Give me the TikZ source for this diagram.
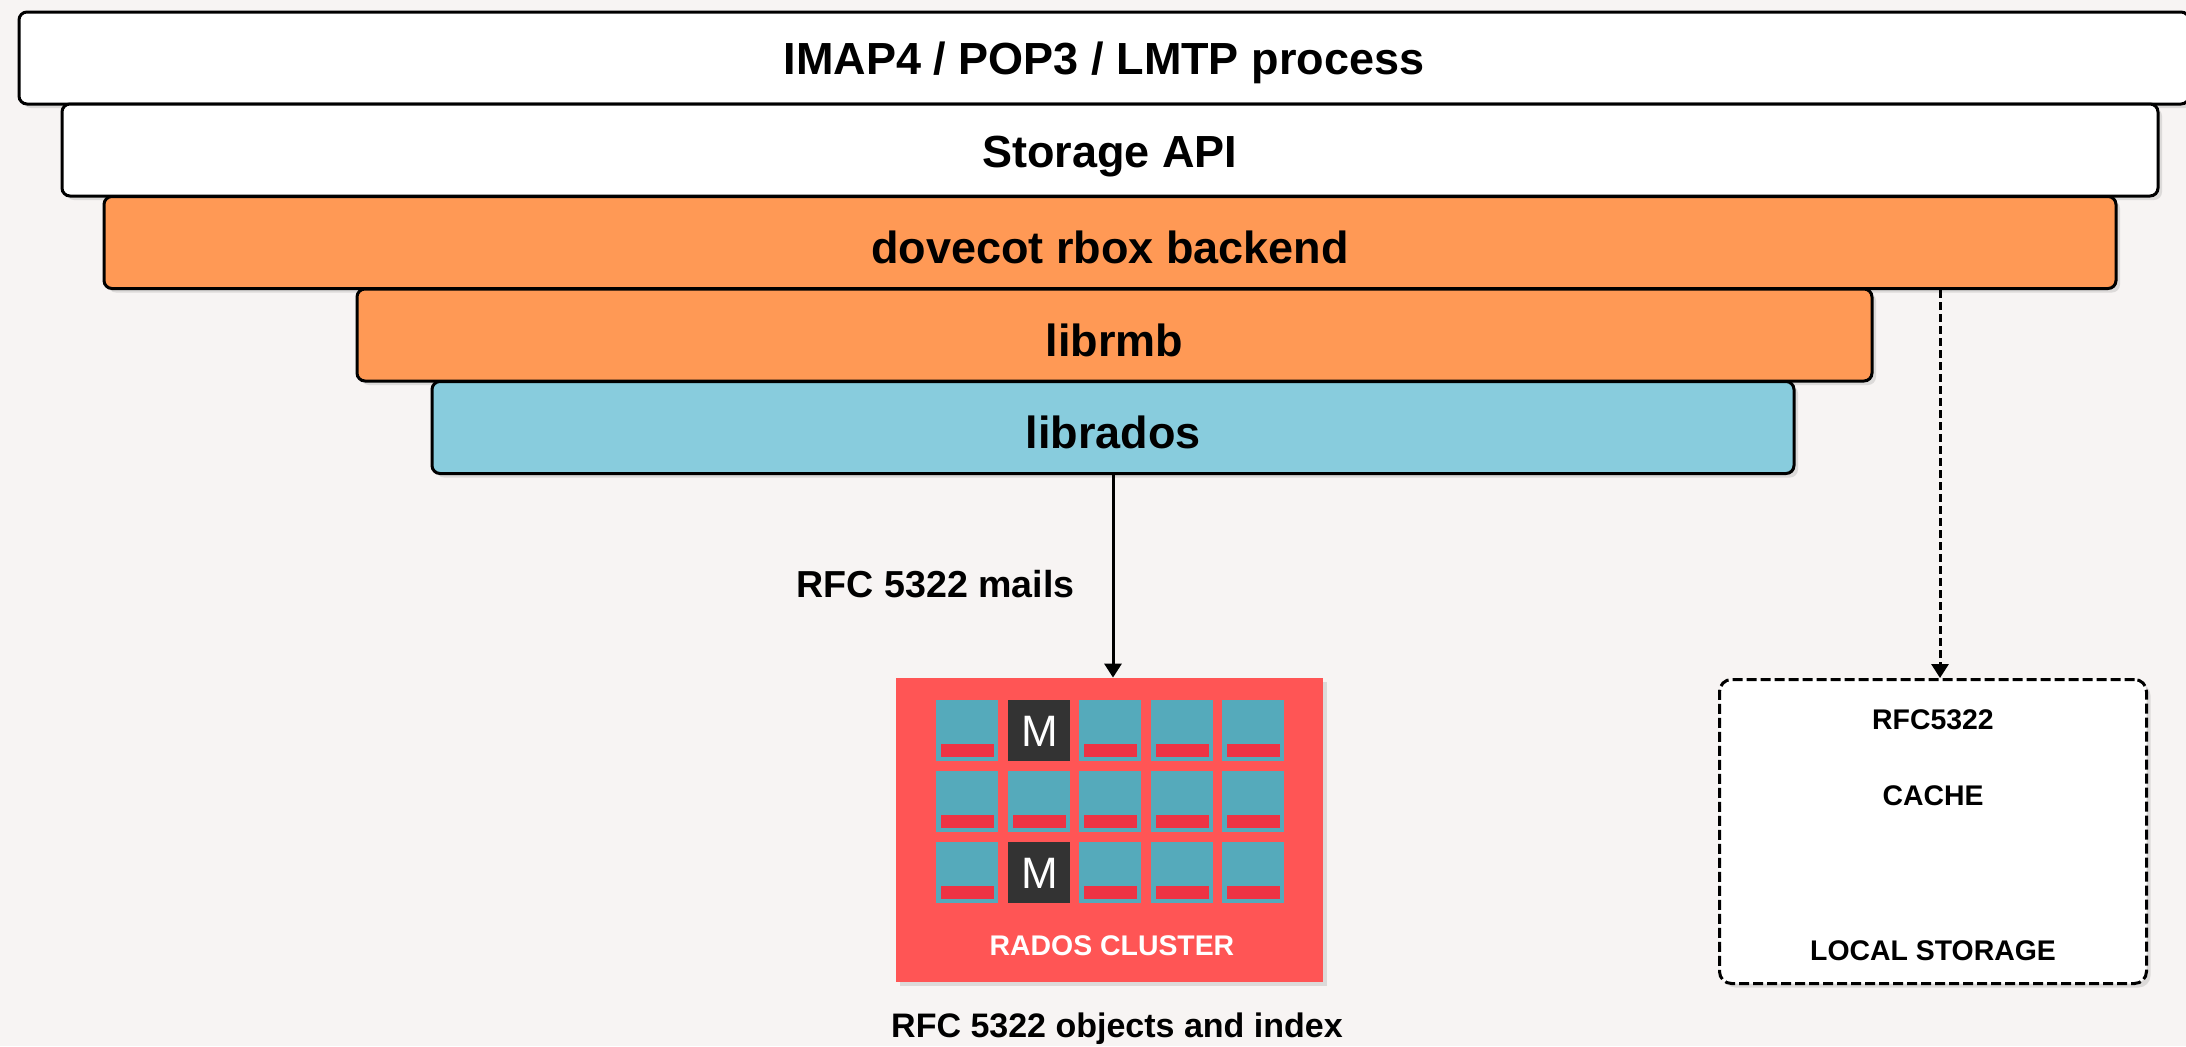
\documentclass[tikz,border=0pt]{standalone}
\usepackage{fontspec}
\setmainfont{Liberation Sans}
\usetikzlibrary{arrows.meta,shadows}
\definecolor{bg}{RGB}{247,244,243}
\definecolor{orng}{RGB}{255,153,85}
\definecolor{lblue}{RGB}{136,204,221}
\definecolor{clred}{RGB}{255,85,85}
\definecolor{tealtile}{RGB}{85,170,187}
\definecolor{barred}{RGB}{238,51,68}
\definecolor{darktile}{RGB}{51,51,51}
\begin{document}
\begin{tikzpicture}[x=0.5pt,y=-0.5pt,
  shadowed/.style={drop shadow={opacity=0.22, shadow xshift=2pt, shadow yshift=-2pt}},
  layer/.style={draw=black, line width=1.5pt, rounded corners=4pt, minimum height=46pt,
    inner sep=0pt, font=\fontsize{22.5}{27}\selectfont\bfseries, text height=16.1pt,
    text depth=0pt, shadowed},
  lowtext/.style={text height=21pt},
  tile/.style={fill=tealtile, minimum width=31pt, minimum height=30.5pt, inner sep=0pt,
    anchor=north west},
  mtile/.style={tile, fill=darktile},
  lbl/.style={inner sep=0pt, font=\fontsize{#1}{#1}\selectfont\bfseries},
  arr/.style={line width=1.5pt, -{Triangle[width=8.5pt,length=7pt]}}
]
\useasboundingbox (0,0) rectangle (2186,1046);
\fill[bg] (0,0) rectangle (2186,1046);

% stacked layers
\node[layer, fill=white, minimum width=1085pt] (imap) at (1104,58) {IMAP4 / POP3 / LMTP process};
\node[layer, fill=white, minimum width=1048pt, text height=17pt] (api) at (1110,150) {Storage API};
\node[layer, lowtext, fill=orng, minimum width=1006pt] (rbox) at (1110,242.5) {dovecot rbox backend};
\node[layer, lowtext, fill=orng, minimum width=757.5pt] (rmb) at (1114.5,335) {librmb};
\node[layer, lowtext, fill=lblue, minimum width=681pt] (rados) at (1113,427.5) {librados};

% rados cluster
\node[fill=clred, minimum width=213.5pt, minimum height=152pt, inner sep=0pt, shadowed] (clus) at (1109.5,830) {};
\foreach \r [count=\ri] in {700,771,842} {
  \foreach \c [count=\ci] in {936,1008,1079,1151,1222} {
    \node[tile] (t\ri\ci) at (\c,\r) {};
    \fill[barred] ([xshift=2.5pt,yshift=2.5pt]t\ri\ci.south west) rectangle ([xshift=-2.5pt,yshift=9pt]t\ri\ci.south east);
  }
}
\node[mtile] (m1) at (1008,700) {};
\node[text=white, font=\fontsize{22}{26}\selectfont, inner sep=0pt] (m1t) at (m1.center) {M};
\node[mtile] (m3) at (1008,842) {};
\node[text=white, font=\fontsize{22}{26}\selectfont, inner sep=0pt] (m3t) at (m3.center) {M};
\node[lbl=14.2, text=white, anchor=base] (clt) at (1112,955) {RADOS CLUSTER};
\node[lbl=17, anchor=base] (objs) at (1117,1037) {RFC 5322 objects and index};

% local storage
\node[draw=black, line width=1.5pt, dash pattern=on 5pt off 2pt, rounded corners=6pt, fill=white,
  minimum width=213.5pt, minimum height=152pt, inner sep=0pt, shadowed] (store) at (1933,831.5) {};
\node[lbl=14.2, anchor=base] (s1) at (1933,729) {RFC5322};
\node[lbl=14.2, anchor=base] (s2) at (1933,805) {CACHE};
\node[lbl=14.2, anchor=base] (s3) at (1933,960) {LOCAL STORAGE};

% connectors
\coordinate (dx) at (1940,500);
\draw[arr] (rados.south) -- (rados.south |- clus.north);
\node[lbl=18.8, anchor=east] (mails) at (1075,584) {RFC 5322 mails};
\draw[arr, dash pattern=on 4pt off 2pt] (rbox.south -| dx) -- (dx |- store.north);
\end{tikzpicture}
\end{document}
